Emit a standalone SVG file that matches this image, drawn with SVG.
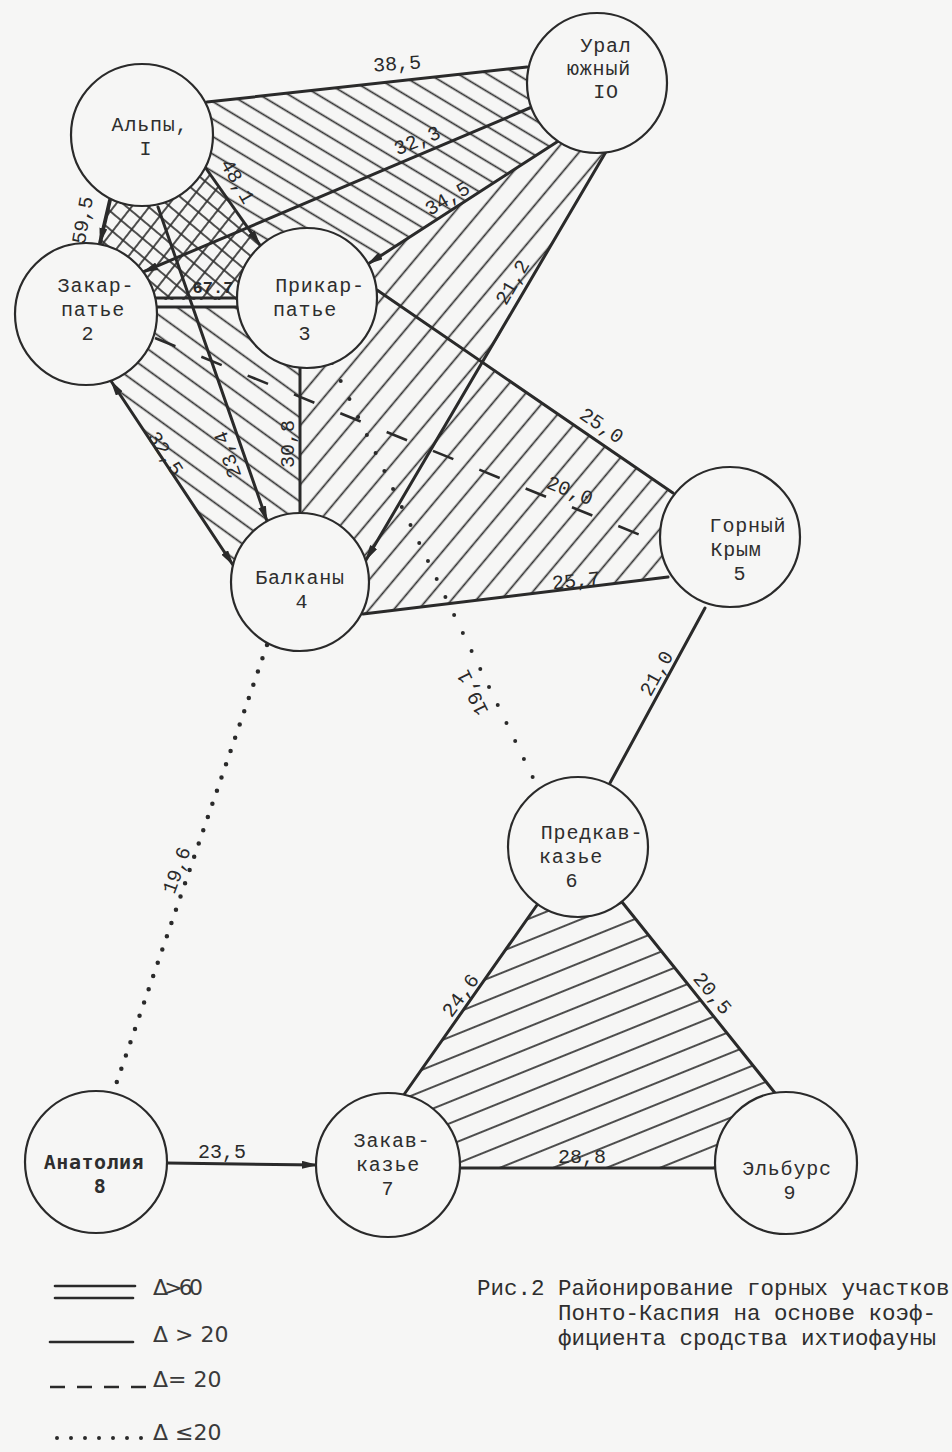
<svg xmlns="http://www.w3.org/2000/svg" width="952" height="1452" viewBox="0 0 952 1452">
<style>
.bg{fill:#f6f6f5}
.node circle{fill:#f6f6f5;stroke:#2a2a2a;stroke-width:2.2}
.node text{font-family:"Liberation Mono","DejaVu Sans Mono",monospace;font-size:20px;letter-spacing:0.8px;fill:#2e2e2e;text-anchor:middle}
.node text.sans{font-family:"DejaVu Sans Mono","Liberation Mono",monospace;font-weight:bold;font-size:20px;letter-spacing:0.5px}
.e{stroke:#2a2a2a;fill:none;stroke-linecap:round}
.dash{stroke:#2a2a2a;fill:none}
.dot{stroke:#2a2a2a;fill:none;stroke-linecap:round}
.h{stroke:#2f2f2f;stroke-width:1.7}
.lbl{font-family:"Liberation Mono","DejaVu Sans Mono",monospace;font-size:20px;fill:#2a2a2a;text-anchor:middle}
.leg{font-family:"DejaVu Sans","Liberation Sans",sans-serif;font-size:22px;fill:#3a3a3a}
.cap{font-family:"Liberation Mono","DejaVu Sans Mono",monospace;font-size:22.5px;fill:#2e2e2e}
</style>
<defs>
<marker id="arr" markerUnits="userSpaceOnUse" markerWidth="16" markerHeight="8" refX="15" refY="4" orient="auto-start-reverse"><path d="M0,0 L16,4 L0,8 z" fill="#2a2a2a"/></marker>
<pattern id="hA" patternUnits="userSpaceOnUse" width="20" height="15" patternTransform="rotate(31)"><line class="h" x1="0" y1="7.5" x2="20" y2="7.5"/></pattern>
<pattern id="hB" patternUnits="userSpaceOnUse" width="20" height="17" patternTransform="rotate(36)"><line class="h" x1="0" y1="8.5" x2="20" y2="8.5"/></pattern>
<pattern id="hC" patternUnits="userSpaceOnUse" width="20" height="19" patternTransform="rotate(-50)"><line class="h" x1="0" y1="9.5" x2="20" y2="9.5"/></pattern>
<pattern id="hD" patternUnits="userSpaceOnUse" width="20" height="20" patternTransform="rotate(-22)"><line class="h" x1="0" y1="10" x2="20" y2="10"/></pattern>
<pattern id="xA" patternUnits="userSpaceOnUse" width="20" height="14" patternTransform="rotate(40)"><line class="h" x1="0" y1="7" x2="20" y2="7"/></pattern>
<pattern id="xB" patternUnits="userSpaceOnUse" width="20" height="14" patternTransform="rotate(-52)"><line class="h" x1="0" y1="7" x2="20" y2="7"/></pattern>
</defs>
<rect class="bg" x="0" y="0" width="952" height="1452"/>

<g id="regions">
<polygon fill="url(#xA)" points="142,135 110,200 100,243 86,314 155,300 238,300 307,298 260,245 205,167"/>
<polygon fill="url(#xB)" points="142,135 110,200 100,243 86,314 155,300 238,300 307,298 260,245 205,167"/>
<polygon fill="url(#hA)" points="142,135 207,102 527,67 597,83 560,140 368,264 307,298 260,245 205,167"/>
<polygon fill="url(#hB)" points="86,314 155,307 238,307 307,298 300,368 300,513 300,582 233,565 111,381"/>
<polygon fill="url(#hC)" points="307,298 368,264 560,140 597,83 607,150 484,362 673,493 730,537 668,576 363,614 300,582 300,513 300,368"/>
<polygon fill="url(#hD)" points="578,847 622,902 775,1093 786,1163 715,1168 460,1168 388,1165 403,1096 537,905"/>
</g>

<g id="connectors" stroke-width="3">
<line class="e" x1="207" y1="102" x2="527" y2="67"/>
<line class="e" x1="143" y1="272" x2="532" y2="107" marker-start="url(#arr)"/>
<line class="e" x1="368" y1="264" x2="560" y2="140" marker-start="url(#arr)"/>
<line class="e" x1="366" y1="560" x2="607" y2="150" marker-start="url(#arr)"/>
<line class="e" x1="110" y1="200" x2="100" y2="243" stroke-width="3.8" marker-end="url(#arr)"/>
<line class="e" x1="205" y1="167" x2="260" y2="245" marker-end="url(#arr)"/>
<line class="e" x1="158" y1="207" x2="267" y2="521" marker-end="url(#arr)"/>
<line class="e" x1="155" y1="298" x2="238" y2="298"/>
<line class="e" x1="155" y1="307" x2="238" y2="307"/>
<line class="e" x1="111" y1="381" x2="233" y2="565" marker-start="url(#arr)" marker-end="url(#arr)"/>
<line class="e" x1="300" y1="368" x2="300" y2="513"/>
<line class="e" x1="377" y1="290" x2="673" y2="493"/>
<line class="e" x1="363" y1="614" x2="668" y2="577"/>
<line class="dash" x1="155" y1="338" x2="660" y2="543" stroke-width="2.6" stroke-dasharray="22 28"/>
<line class="dot" x1="332" y1="363" x2="538" y2="788" stroke-width="4" stroke-dasharray="0 20"/>
<line class="dot" x1="267" y1="645" x2="114" y2="1090" stroke-width="4.5" stroke-dasharray="0 14"/>
<line class="e" x1="705" y1="608" x2="610" y2="783"/>
<line class="e" x1="537" y1="905" x2="403" y2="1096"/>
<line class="e" x1="622" y1="902" x2="775" y2="1093"/>
<line class="e" x1="460" y1="1168" x2="715" y2="1168"/>
<line class="e" x1="167" y1="1163" x2="317" y2="1165" marker-end="url(#arr)"/>
</g>

<g id="edge-labels">
<text class="lbl" transform="translate(397,63) rotate(-4)" dy="0.35em">38,5</text>
<text class="lbl" transform="translate(417,140) rotate(-22)" dy="0.35em">32,3</text>
<text class="lbl" transform="translate(447,198) rotate(-30)" dy="0.35em">34,5</text>
<text class="lbl" transform="translate(512,282) rotate(-60)" dy="0.35em">21,2</text>
<text class="lbl" transform="translate(602,425) rotate(34)" dy="0.35em">25,0</text>
<text class="lbl" transform="translate(570,490) rotate(22)" dy="0.35em">20,0</text>
<text class="lbl" transform="translate(576,580) rotate(-6)" dy="0.35em">25,7</text>
<text class="lbl" transform="translate(82,220) rotate(-80)" dy="0.35em">59,5</text>
<text class="lbl" transform="translate(238,181) rotate(60)" dy="0.35em">48,1</text>
<text class="lbl" x="213" y="293" style="font-size:17px;font-weight:bold">67.7</text>
<text class="lbl" transform="translate(227,455) rotate(-109)" dy="0.35em">23,4</text>
<text class="lbl" transform="translate(166,453) rotate(57)" dy="0.35em">32,5</text>
<text class="lbl" transform="translate(287,444) rotate(-90)" dy="0.35em">30,8</text>
<text class="lbl" transform="translate(472,693) rotate(-116)" dy="0.35em">19,1</text>
<text class="lbl" transform="translate(176,870) rotate(-70)" dy="0.35em">19,6</text>
<text class="lbl" transform="translate(656,673) rotate(-61)" dy="0.35em">21,0</text>
<text class="lbl" transform="translate(460,995) rotate(-54)" dy="0.35em">24,6</text>
<text class="lbl" transform="translate(713,993) rotate(50)" dy="0.35em">20,5</text>
<text class="lbl" x="582" y="1163">28,8</text>
<text class="lbl" x="222" y="1158">23,5</text>
</g>

<g id="node-1" class="node"><circle cx="142" cy="135" r="71"/><text x="150" y="131">Альпы,</text><text x="146" y="155">I</text></g>
<g id="node-2" class="node"><circle cx="86" cy="314" r="71"/><text x="96" y="292">Закар-</text><text x="93" y="316">патье</text><text x="88" y="340">2</text></g>
<g id="node-3" class="node"><circle cx="307" cy="298" r="70"/><text x="320" y="292">Прикар-</text><text x="305" y="316">патье</text><text x="305" y="340">3</text></g>
<g id="node-10" class="node"><circle cx="597" cy="83" r="70"/><text x="606" y="52">Урал</text><text x="599" y="75">южный</text><text x="606" y="98">IO</text></g>
<g id="node-4" class="node"><circle cx="300" cy="582" r="69"/><text x="300" y="584">Балканы</text><text x="302" y="608">4</text></g>
<g id="node-5" class="node"><circle cx="730" cy="537" r="70"/><text x="748" y="532">Горный</text><text x="736" y="556">Крым</text><text x="740" y="580">5</text></g>
<g id="node-6" class="node"><circle cx="578" cy="847" r="70"/><text x="592" y="839">Предкав-</text><text x="571" y="863">казье</text><text x="572" y="887">6</text></g>
<g id="node-7" class="node"><circle cx="388" cy="1165" r="72"/><text x="392" y="1147">Закав-</text><text x="388" y="1171">казье</text><text x="388" y="1195">7</text></g>
<g id="node-8" class="node"><circle cx="96" cy="1162" r="71"/><text class="sans" x="94" y="1169">Анатолия</text><text class="sans" x="100" y="1193">8</text></g>
<g id="node-9" class="node"><circle cx="786" cy="1163" r="71"/><text x="787" y="1175">Эльбурс</text><text x="790" y="1199">9</text></g>

<g id="legend">
<line class="e" x1="55" y1="1286" x2="135" y2="1286" stroke-width="2.6"/>
<line class="e" x1="55" y1="1298" x2="133" y2="1298" stroke-width="2.6"/>
<text class="leg" x="153" y="1295" textLength="50">Δ&gt;60</text>
<line class="e" x1="50" y1="1342" x2="133" y2="1342" stroke-width="2.6"/>
<text class="leg" x="153" y="1342">Δ &gt; 20</text>
<line class="dash" x1="50" y1="1387" x2="147" y2="1387" stroke-width="2.6" stroke-dasharray="15 12"/>
<text class="leg" x="153" y="1387">Δ= 20</text>
<line class="dot" x1="57" y1="1438" x2="142" y2="1438" stroke-width="4" stroke-dasharray="0 14"/>
<text class="leg" x="153" y="1440">Δ ≤20</text>
</g>

<g id="caption">
<text class="cap" x="477" y="1295">Рис.2 Районирование горных участков</text>
<text class="cap" x="558" y="1320">Понто-Каспия на основе коэф-</text>
<text class="cap" x="558" y="1345">фициента сродства ихтиофауны</text>
</g>
</svg>
